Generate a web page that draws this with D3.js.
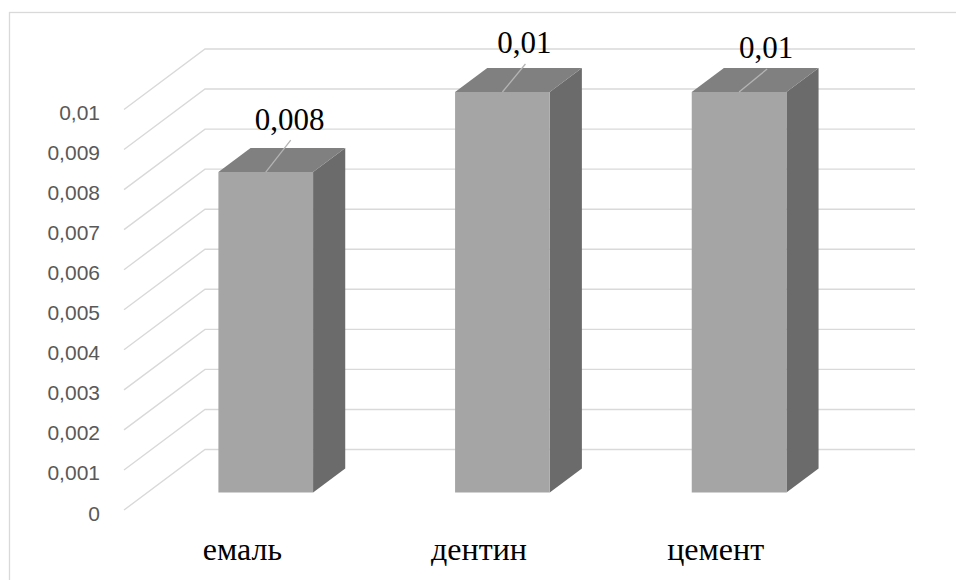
<!DOCTYPE html>
<html>
<head>
<meta charset="utf-8">
<script src="https://cdn.jsdelivr.net/npm/d3@7/dist/d3.min.js"></script>
<style>
  html, body { margin: 0; padding: 0; background: #ffffff; }
  svg { display: block; }
</style>
</head>
<body>
<svg id="chart" width="956" height="580"></svg>
<script>
// Tooth tissue values
const categories = ["емаль", "дентин", "цемент"];
const values = [0.008, 0.01, 0.01];
const yTicks = [0, 0.001, 0.002, 0.003, 0.004, 0.005, 0.006, 0.007, 0.008, 0.009, 0.01];

// Label placement (leader end relative to the bar's top-front centre)
const labelShift = [[25, -32], [23, -28], [28, -23]];
const labelGap = [10, 11, 11];

const W = 956, H = 580;
const svg = d3.select("#chart");

// Oblique 3D frame: front-left floor corner and depth vector
const ox = 124, oy = 510;
const depthX = 81, depthY = -60.5;
const floorWidth = 710;

const locale = d3.formatLocale({ decimal: ",", thousands: " ", grouping: [3], currency: ["", ""] });
const fmt = locale.format(".3~f");

const y = d3.scaleLinear().domain([0, 0.01]).range([0, 400.5]);
const u = d3.scaleBand().domain(categories).range([0, floorWidth]).paddingInner(0.6).paddingOuter(0.3);

// project (u, value, depth 0..1 from front) to screen
function P(uu, v, d) {
  return [ox + uu + d * depthX, oy - y(v) + d * depthY];
}

// Chart area border
svg.append("rect")
  .attr("x", 9.5).attr("y", 12.5)
  .attr("width", W + 20).attr("height", H + 20)
  .attr("fill", "none").attr("stroke", "#d9d9d9").attr("stroke-width", 1.3);

const grid = svg.append("g").attr("stroke", "#d9d9d9").attr("stroke-width", 1.4).attr("fill", "none");
// side wall (diagonals) + back wall lines
yTicks.forEach(t => {
  const a = P(0, t, 0), b = P(0, t, 1), c = P(floorWidth, t, 1);
  grid.append("polyline").attr("points", [a, b, c].map(p => p.join(",")).join(" "));
});

// Value axis labels
svg.append("g")
  .selectAll("text").data(yTicks).join("text")
  .attr("x", 100)
  .attr("y", d => P(0, d, 0)[1] + 3)
  .attr("text-anchor", "end")
  .attr("dominant-baseline", "central")
  .attr("font-family", "'Liberation Sans', Arial, sans-serif")
  .attr("font-size", 21)
  .attr("fill", "#595959")
  .text(d => fmt(d));

// Bars
const dFront = 0.289, dBack = 0.686;
const bars = svg.append("g");
categories.forEach((c, i) => {
  const x0 = u(c), x1 = u(c) + u.bandwidth(), v = values[i];
  const poly = pts => pts.map(p => p.join(",")).join(" ");
  // side face
  bars.append("polygon").attr("fill", "#6b6b6b")
    .attr("points", poly([P(x1, 0, dFront), P(x1, 0, dBack), P(x1, v, dBack), P(x1, v, dFront)]));
  // top face
  bars.append("polygon").attr("fill", "#808080")
    .attr("points", poly([P(x0, v, dFront), P(x1, v, dFront), P(x1, v, dBack), P(x0, v, dBack)]));
  // front face
  bars.append("polygon").attr("fill", "#a5a5a5")
    .attr("points", poly([P(x0, 0, dFront), P(x1, 0, dFront), P(x1, v, dFront), P(x0, v, dFront)]));
});

// Data labels with leader lines
categories.forEach((c, i) => {
  const v = values[i];
  const top = P(u(c) + u.bandwidth() / 2, v, dFront);
  const end = [top[0] + labelShift[i][0], top[1] + labelShift[i][1]];
  svg.append("line")
    .attr("x1", top[0]).attr("y1", top[1])
    .attr("x2", end[0]).attr("y2", end[1])
    .attr("stroke", "#b4b4b4").attr("stroke-width", 1.3);
  svg.append("text")
    .attr("x", end[0] - 1)
    .attr("y", end[1] - labelGap[i])
    .attr("text-anchor", "middle")
    .attr("font-family", "'Liberation Serif', 'Times New Roman', serif")
    .attr("font-size", 31)
    .attr("fill", "#000000")
    .text(fmt(v));
});

// Category labels along the front floor edge
svg.append("g")
  .selectAll("text").data(categories).join("text")
  .attr("x", d => P(u(d) + u.bandwidth() / 2, 0, 0)[0])
  .attr("y", 560)
  .attr("text-anchor", "middle")
  .attr("font-family", "'Liberation Serif', 'Times New Roman', serif")
  .attr("font-size", 32)
  .attr("fill", "#000000")
  .text(d => d);
</script>
</body>
</html>
